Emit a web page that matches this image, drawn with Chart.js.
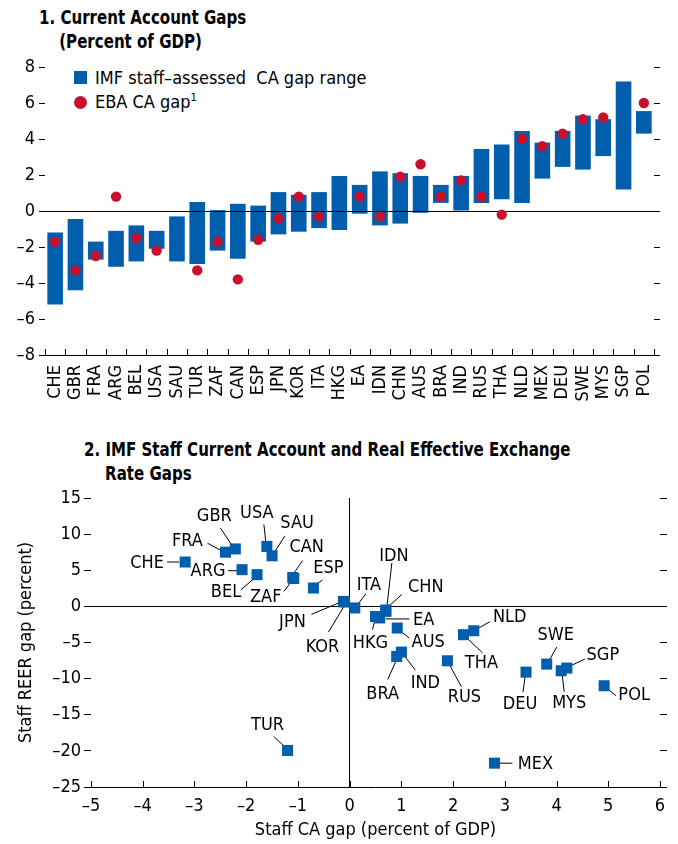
<!DOCTYPE html>
<html>
<head>
<meta charset="utf-8">
<script src="https://cdn.jsdelivr.net/npm/chart.js@4.4.1/dist/chart.umd.min.js"></script>
<style>
  body { margin: 0; background: #fff; }
  #wrap { position: relative; width: 678px; height: 844px; overflow: hidden;
          font-family: "Liberation Sans Narrow", "Arial Narrow", "DejaVu Sans Condensed", sans-serif; color: #000; }
  .title { position: absolute; font-weight: bold; font-size: 19px; line-height: 24px; white-space: nowrap;
           transform: scaleX(0.88); transform-origin: 0 0; }
  .legend { position: absolute; font-size: 18px; line-height: 22px; white-space: nowrap; }
  .swatch { position: absolute; }
  canvas { position: absolute; left: 0; }
</style>
</head>
<body>
<div id="wrap">
  <div class="title" style="left:39px; top:5px;">1. Current Account Gaps<br><span style="padding-left:23px">(Percent of GDP)</span></div>
  <div class="swatch" style="left:74px; top:71px; width:13px; height:13px; background:#005EAC;"></div>
  <div class="legend" style="left:95px; top:67px;">IMF staff–assessed&nbsp; CA gap range</div>
  <div class="swatch" style="left:73.5px; top:95.5px; width:13px; height:13px; border-radius:50%; background:#C8102E;"></div>
  <div class="legend" style="left:95px; top:91px;">EBA CA gap<sup style="font-size:11px; vertical-align:7px; line-height:0">1</sup></div>

  <div class="title" style="left:84px; top:437px;">2. IMF Staff Current Account and Real Effective Exchange<br><span style="padding-left:24px">Rate Gaps</span></div>

  <canvas id="top" width="678" height="420" style="top:0"></canvas>
  <canvas id="bottom" width="678" height="424" style="top:420px"></canvas>
</div>
<script>
// ---- panel 1 data ----
const categories = ['CHE','GBR','FRA','ARG','BEL','USA','SAU','TUR','ZAF','CAN','ESP','JPN','KOR','ITA','HKG',
                    'EA','IDN','CHN','AUS','BRA','IND','RUS','THA','NLD','MEX','DEU','SWE','MYS','SGP','POL'];
const rangeLow  = [-5.2,-4.4,-2.7,-3.1,-2.8,-2.1,-2.8,-2.95,-2.2,-2.65,-1.7,-1.3,-1.15,-0.95,-1.05,
                   -0.15,-0.8,-0.7,-0.1,0.45,0,0.45,0.65,0.45,1.8,2.45,2.3,3.05,1.2,4.3];
const rangeHigh = [-1.2,-0.45,-1.7,-1.1,-0.8,-1.1,-0.3,0.5,0.05,0.4,0.3,1.05,0.9,1.05,1.95,
                   1.45,2.2,2.1,1.95,1.45,1.95,3.45,3.7,4.45,3.8,4.45,5.3,5.1,7.2,5.55];
const ebaGap    = [-1.7,-3.3,-2.5,0.8,-1.5,-2.2,null,-3.3,-1.7,-3.8,-1.6,-0.4,0.8,-0.3,null,
                   0.8,-0.3,1.9,2.6,0.8,1.7,0.8,-0.2,4.0,3.6,4.3,5.1,5.2,null,6.0];

// ---- panel 2 data ----
const scatterCodes = ['CHE','FRA','GBR','ARG','BEL','USA','SAU','CAN','ZAF','ESP','JPN','KOR','ITA','IDN','CHN',
                      'EA','HKG','AUS','BRA','IND','RUS','THA','NLD','DEU','SWE','MYS','SGP','POL','MEX','TUR'];
const staffCaGap   = [-3.18,-2.4,-2.21,-2.08,-1.79,-1.6,-1.5,-1.1,-1.08,-0.7,-0.12,-0.1,0.1,0.7,0.7,
                      0.58,0.5,0.92,0.91,1.0,1.89,2.2,2.4,3.41,3.81,4.09,4.2,4.92,2.8,-1.2];
const staffReerGap = [6.14,7.5,7.95,5.08,4.39,8.3,7.0,4.0,3.85,2.54,0.69,0.6,-0.22,-0.5,-0.69,
                      -1.6,-1.4,-3.0,-6.93,-6.33,-7.53,-3.92,-3.37,-9.1,-7.99,-8.91,-8.54,-10.99,-21.7,-19.94];

// label placement (pixel offsets from the marker): text centre, leader line start/end
const labelLayout = {
  CHE: { t: [-38, 0],   l: [-18, 0, -6, 0] },
  FRA: { t: [-38, -12], l: [-18, -9, -5, -2] },
  GBR: { t: [-21, -34], l: [-15, -21, -3, -3] },
  USA: { t: [-10, -34], l: [-3, -22, -1, -4] },
  SAU: { t: [25, -33],  l: [13, -20, 2, -3] },
  CAN: { t: [14, -31],  l: [10, -17, 1, -4] },
  ZAF: { t: [-28, 18],  l: [-10, 13, -3, 4] },
  ESP: { t: [15, -21],  l: [9, -8, 2, -3] },
  ARG: { t: [-34, 1],   l: [-14, 1, -5, 1] },
  BEL: { t: [-31, 17],  l: [-16, 15, -2, 3] },
  JPN: { t: [-51, 20],  l: [-32, 13, -1, 0] },
  KOR: { t: [-22, 44],  l: [-16, 30, 1, 2] },
  ITA: { t: [14, -24],  l: [11, -14, 1, -1] },
  IDN: { t: [8, -55],   l: [6, -47, 1, -3] },
  CHN: { t: [40, -25],  l: [16, -17, 3, -5] },
  EA:  { t: [44, 1],    l: [6, 1, 30, 1] },
  HKG: { t: [-5, 26],   l: [-3, 13, -1, 5] },
  AUS: { t: [31, 13],   l: [12, 10, 2, 2] },
  BRA: { t: [-14, 37],  l: [-9, 23, 0, 3] },
  IND: { t: [24, 30],   l: [14, 18, 1, 1] },
  RUS: { t: [17, 36],   l: [14, 26, 1, 2] },
  THA: { t: [18, 28],   l: [19, 18, 0, 0] },
  NLD: { t: [36, -14],  l: [16, -9, 2, -1] },
  DEU: { t: [-6, 31],   l: [-3, 20, -1, 5] },
  SWE: { t: [9, -30],   l: [10, -17, 1, -1] },
  MYS: { t: [8, 32],    l: [3, 21, 1, 4] },
  SGP: { t: [36, -14],  l: [18, -9, 1, -1] },
  POL: { t: [30, 9],    l: [12, 10, 1, 1] },
  MEX: { t: [41, 0],    l: [4, 0, 18, 0] },
  TUR: { t: [-20, -26], l: [-14, -14, -2, -3] }
};

const FONT = '"Liberation Sans Narrow", "Arial Narrow", "DejaVu Sans Condensed", sans-serif';
const BLUE = '#005EAC';
const RED = '#C8102E';
Chart.defaults.font.family = FONT;
Chart.defaults.font.size = 18;
Chart.defaults.color = '#000';

const fmtMinus = v => String(v).replace('-', '\u2013');

// axis line along the bottom that runs past the plot under the side ticks, plus inward ticks
function bottomAxis(tickValues, tickLen, ext) {
  return {
    id: 'bottomAxis',
    afterDraw(chart) {
      const { ctx, chartArea } = chart;
      const xs = chart.scales.x;
      ctx.save();
      ctx.strokeStyle = '#000';
      ctx.lineWidth = 1;
      ctx.beginPath();
      ctx.moveTo(chartArea.left - ext[0], chartArea.bottom + 0.5);
      ctx.lineTo(chartArea.right + ext[1], chartArea.bottom + 0.5);
      tickValues(xs).forEach(x => {
        const px = Math.round(x) + 0.5;
        ctx.moveTo(px, chartArea.bottom);
        ctx.lineTo(px, chartArea.bottom - tickLen);
      });
      ctx.stroke();
      ctx.restore();
    }
  };
}

// ---------------- panel 1 ----------------
const zeroOverBars = {
  id: 'zeroOverBars',
  afterDatasetDraw(chart, args) {
    if (args.index !== 0) return;
    const { ctx, chartArea } = chart;
    const y = Math.round(chart.scales.y.getPixelForValue(0)) + 0.5;
    ctx.save();
    ctx.strokeStyle = '#000';
    ctx.lineWidth = 1.2;
    ctx.beginPath();
    ctx.moveTo(chartArea.left, y);
    ctx.lineTo(chartArea.right, y);
    ctx.stroke();
    ctx.restore();
  }
};

new Chart(document.getElementById('top'), {
  type: 'bar',
  data: {
    labels: categories,
    datasets: [
      {
        type: 'bar',
        label: 'IMF staff–assessed CA gap range',
        data: rangeLow.map((v, i) => [v, rangeHigh[i]]),
        backgroundColor: BLUE,
        borderWidth: 0,
        barPercentage: 0.77,
        categoryPercentage: 1,
        order: 1
      },
      {
        type: 'line',
        label: 'EBA CA gap',
        data: ebaGap,
        showLine: false,
        pointRadius: 5.2,
        pointBackgroundColor: RED,
        pointBorderWidth: 0,
        order: 0
      }
    ]
  },
  options: {
    responsive: false,
    animation: false,
    layout: { padding: { top: 67, left: 0, right: 0, bottom: 0 } },
    plugins: { legend: { display: false }, tooltip: { enabled: false } },
    scales: {
      x: {
        grid: { display: false, drawTicks: false },
        border: { display: false },
        ticks: { minRotation: 90, maxRotation: 90, autoSkip: false, padding: 10, font: { size: 18 } },
        afterFit: s => { s.height = 65; }
      },
      y: {
        min: -8, max: 8,
        ticks: { stepSize: 2, padding: 4, callback: fmtMinus },
        grid: { drawOnChartArea: false, tickLength: 6, tickColor: '#000' },
        border: { display: false },
        afterFit: s => { s.width = 45; }
      },
      y2: {
        position: 'right',
        min: -8, max: 8,
        ticks: { stepSize: 2, display: false },
        grid: { drawOnChartArea: false, tickLength: 6, tickColor: '#000' },
        border: { display: false },
        afterFit: s => { s.width = 24; }
      }
    }
  },
  plugins: [zeroOverBars, bottomAxis(xs => {
    const half = (xs.getPixelForValue(1) - xs.getPixelForValue(0)) / 2;
    const out = [];
    for (let i = 0; i <= categories.length; i++) out.push(xs.getPixelForValue(i) - half);
    return out;
  }, 6, [6, 6])]
});

// ---------------- panel 2 ----------------
const leaderLabels = {
  id: 'leaderLabels',
  beforeDatasetsDraw(chart) {
    const { ctx } = chart;
    const meta = chart.getDatasetMeta(0);
    ctx.save();
    ctx.strokeStyle = '#000';
    ctx.lineWidth = 1;
    ctx.fillStyle = '#000';
    ctx.font = '18px ' + FONT;
    ctx.textAlign = 'center';
    ctx.textBaseline = 'middle';
    scatterCodes.forEach((code, i) => {
      const pt = meta.data[i];
      const lay = labelLayout[code];
      ctx.beginPath();
      ctx.moveTo(pt.x + lay.l[0], pt.y + lay.l[1]);
      ctx.lineTo(pt.x + lay.l[2], pt.y + lay.l[3]);
      ctx.stroke();
      ctx.fillText(code, pt.x + lay.t[0], pt.y + lay.t[1] + 1);
    });
    ctx.restore();
  }
};

const zeroOnly = c => (c.tick && c.tick.value === 0 ? '#000' : 'rgba(0,0,0,0)');

new Chart(document.getElementById('bottom'), {
  type: 'scatter',
  data: {
    datasets: [{
      label: 'Staff gaps',
      data: staffCaGap.map((x, i) => ({ x: x, y: staffReerGap[i] })),
      pointStyle: 'rect',
      pointRadius: 7.8,
      pointBackgroundColor: BLUE,
      pointBorderWidth: 0
    }]
  },
  options: {
    responsive: false,
    animation: false,
    layout: { padding: { top: 78, left: 0, right: 0, bottom: 0 } },
    plugins: { legend: { display: false }, tooltip: { enabled: false } },
    scales: {
      x: {
        type: 'linear',
        min: -5, max: 6,
        ticks: { stepSize: 1, padding: 9, callback: fmtMinus },
        grid: { color: zeroOnly, drawTicks: false, lineWidth: 1 },
        border: { display: false },
        title: { display: true, text: 'Staff CA gap (percent of GDP)', font: { size: 18, lineHeight: 1.2 }, padding: { top: 0, bottom: 3 } },
        afterFit: s => { s.height = 57; }
      },
      y: {
        min: -25, max: 15,
        ticks: { stepSize: 5, padding: 3, callback: fmtMinus },
        grid: { color: zeroOnly, tickColor: '#000', tickLength: 7 },
        border: { display: false },
        title: { display: true, text: 'Staff REER gap (percent)', font: { size: 18, lineHeight: 1.2 }, padding: { top: 16, bottom: 0 } },
        afterFit: s => { s.width = 91; }
      },
      y2: {
        position: 'right',
        min: -25, max: 15,
        ticks: { stepSize: 5, display: false },
        grid: { drawOnChartArea: false, tickColor: '#000', tickLength: 7 },
        border: { display: false },
        afterFit: s => { s.width = 18; }
      }
    }
  },
  plugins: [leaderLabels, bottomAxis(xs => {
    const out = [];
    for (let v = -5; v <= 6; v++) out.push(xs.getPixelForValue(v));
    return out;
  }, 6, [7, 7])]
});
</script>
</body>
</html>
